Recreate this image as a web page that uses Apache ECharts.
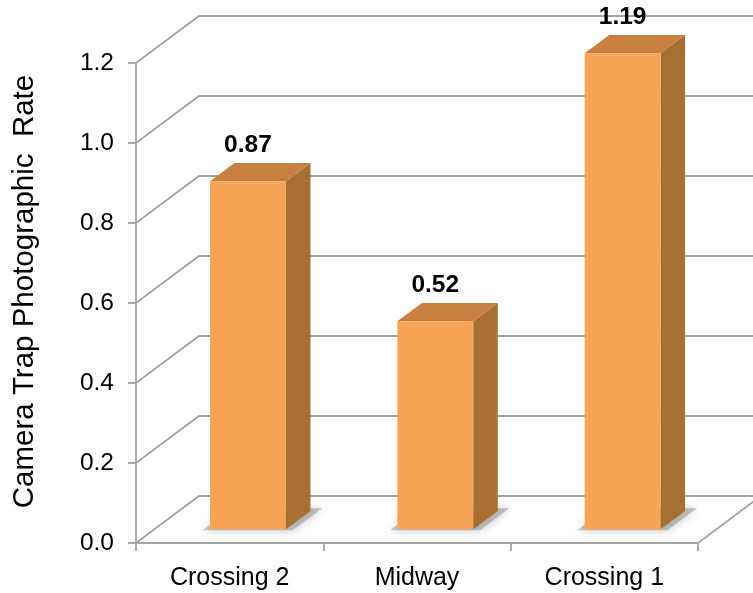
<!DOCTYPE html>
<html><head><meta charset="utf-8">
<script src="https://cdn.jsdelivr.net/npm/echarts@6/dist/echarts.min.js"></script>
<style>html,body{margin:0;padding:0;background:#fff}#c{width:753px;height:593px}</style>
</head><body><div id="c"></div>
<script>
const categories = ['Crossing 2', 'Midway', 'Crossing 1'];
const rates = [0.87, 0.52, 1.19];
const yTicks = [0, 0.2, 0.4, 0.6, 0.8, 1.0, 1.2];
const yTitle = 'Camera Trap Photographic  Rate';

const DX = 63, DY = 47;          // depth projection of the 3D box
const D0 = 0.29, D1 = 0.68;      // bar depth range
const BAR_FRAC = 0.405;
const GRID_COLOR = '#A3A3A3';
const FONT = "'Liberation Sans', Arial, sans-serif";

const chart = echarts.init(document.getElementById('c'), null, {renderer: 'canvas'});

function wallItem(params, api) {
  const cs = params.coordSys;
  const v = api.value(1);
  const y = api.coord([0, v])[1];
  const x0 = cs.x, x1 = cs.x + cs.width;
  const style = {stroke: GRID_COLOR, lineWidth: 1.8, fill: null};
  const children = [{type: 'polyline', shape: {points: [[x0, y], [x0 + DX, y - DY], [x1 + DX + 20, y - DY]]}, style: style}];
  if (v === 0) children.push({type: 'line', shape: {x1: x1, y1: y, x2: x1 + DX, y2: y - DY}, style: style});
  return {type: 'group', children: children};
}

function barItem(params, api) {
  const idx = api.value(0), val = api.value(1);
  const base = api.coord([idx, 0]);
  const top = api.coord([idx, val]);
  const w = api.size([1, 0])[0] * BAR_FRAC;
  const xl = base[0] - w / 2, xr = base[0] + w / 2;
  const yb = base[1], yt = top[1];
  const P = (x, y, d) => [x + d * DX, y - d * DY];
  const front = [P(xl, yb, D0), P(xr, yb, D0), P(xr, yt, D0), P(xl, yt, D0)];
  const topF = [P(xl, yt, D0), P(xr, yt, D0), P(xr, yt, D1), P(xl, yt, D1)];
  const side = [P(xr, yb, D0), P(xr, yt, D0), P(xr, yt, D1), P(xr, yb, D1)];
  const foot = [P(xl - 6, yb, D0 - 0.02), P(xr + 8, yb, D0 - 0.02), P(xr + 8, yb, D1 + 0.06), P(xl - 6, yb, D1 + 0.06)];
  return {type: 'group', children: [
    {type: 'polygon', shape: {points: foot}, style: {fill: 'rgba(150,150,150,0.55)', shadowBlur: 10, shadowColor: 'rgba(0,0,0,0.4)'}},
    {type: 'polygon', shape: {points: side}, style: {fill: '#A86F32'}},
    {type: 'polygon', shape: {points: topF}, style: {fill: '#C7803F'}},
    {type: 'polygon', shape: {points: front}, style: {fill: '#F7A456'}},
    {type: 'text', x: base[0] + D0 * DX, y: yt - D1 * DY - 18,
      style: {text: val.toFixed(2), fontSize: 24.5, fontWeight: 'bold', fontFamily: FONT, fill: '#000', align: 'center', verticalAlign: 'middle'}}
  ]};
}

const option = {
  animation: false,
  backgroundColor: '#fff',
  grid: {left: 136, right: 55, top: 63, bottom: 50},
  xAxis: {
    type: 'category', data: categories,
    axisLine: {show: true, lineStyle: {color: GRID_COLOR, width: 1.8}},
    axisTick: {show: true, length: 8, lineStyle: {color: GRID_COLOR, width: 1.8}},
    axisLabel: {interval: 0, fontSize: 25, color: '#000', fontFamily: FONT, margin: 23}
  },
  yAxis: {
    type: 'value', min: 0, max: 1.2, interval: 0.2,
    axisLine: {show: true, lineStyle: {color: GRID_COLOR, width: 1.8}},
    axisTick: {show: true, length: 8, lineStyle: {color: GRID_COLOR, width: 1.8}},
    splitLine: {show: false},
    axisLabel: {fontSize: 24.5, color: '#000', fontFamily: FONT, margin: 22, padding: [10, 0, 0, 0], formatter: v => v.toFixed(1)},
    name: yTitle, nameLocation: 'middle', nameGap: 96,
    nameTextStyle: {fontSize: 29.5, color: '#000', fontFamily: FONT, padding: [0, 0, 0, 23]}
  },
  series: [
    {type: 'custom', renderItem: wallItem, data: yTicks.map(v => [0, v]), silent: true, z: 1},
    {type: 'custom', renderItem: barItem, data: rates.map((v, i) => [i, v]), z: 2}
  ]
};
chart.setOption(option);
</script></body></html>
